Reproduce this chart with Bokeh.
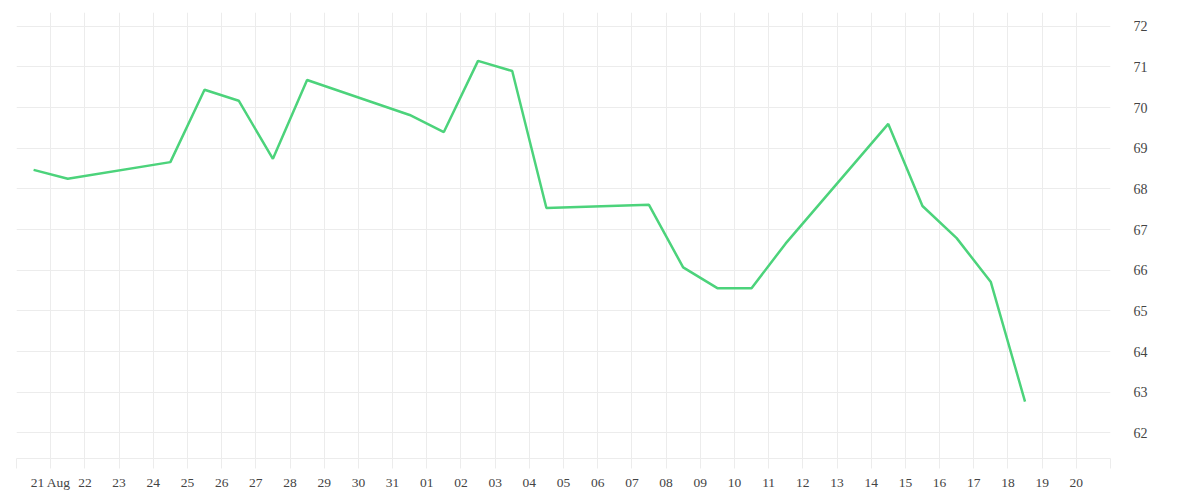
import pandas as pd
from bokeh.plotting import figure
from bokeh.models import Range1d, FixedTicker, ColumnDataSource
from bokeh.embed import file_html
from bokeh.resources import INLINE

# ---- data ----
dates = [
    "2020-08-20 12:00", "2020-08-21 12:00", "2020-08-24 12:00", "2020-08-25 12:00",
    "2020-08-26 12:00", "2020-08-27 12:00", "2020-08-28 12:00", "2020-08-31 12:00",
    "2020-09-01 12:00", "2020-09-02 12:00", "2020-09-03 12:00", "2020-09-04 12:00",
    "2020-09-07 12:00", "2020-09-08 12:00", "2020-09-09 12:00", "2020-09-10 12:00",
    "2020-09-11 12:00", "2020-09-14 12:00", "2020-09-15 12:00", "2020-09-16 12:00",
    "2020-09-17 12:00", "2020-09-18 12:00",
]
values = [
    68.47, 68.25, 68.66, 70.44, 70.17, 68.74, 70.68, 69.82,
    69.40, 71.15, 70.90, 67.53, 67.61, 66.07, 65.56, 65.56,
    66.66, 69.60, 67.58, 66.79, 65.71, 62.77,
]
tick_days = pd.date_range("2020-08-20", "2020-09-21", freq="D")
tick_labels = [""] + ["21 Aug"] + [d.strftime("%d") for d in tick_days[2:-1]] + [""]
y_ticks = [62, 63, 64, 65, 66, 67, 68, 69, 70, 71, 72]
x_start, x_end = "2020-08-20", "2020-09-21"
y_start, y_end = 61.37, 72.34

def ms(s):
    return pd.Timestamp(s).value // 10**6

GRID = "#ececec"
TEXT = "#444444"
FONT = "Liberation Serif"

source = ColumnDataSource(data=dict(x=[ms(d) for d in dates], y=values))

p = figure(
    x_axis_type="datetime", y_axis_location="right",
    frame_width=1094, frame_height=446,
    min_border_left=16, min_border_top=12, min_border_right=10, min_border_bottom=4,
    output_backend="svg", toolbar_location=None,
    x_range=Range1d(ms(x_start), ms(x_end)), y_range=Range1d(y_start, y_end),
)
p.outline_line_color = None
p.background_fill_color = "white"
p.border_fill_color = "white"

p.line("x", "y", source=source, line_color="#4cd37b", line_width=2.5)

tick_ms = [ms(d) for d in tick_days]
p.xaxis.ticker = FixedTicker(ticks=tick_ms)
p.xaxis.major_label_overrides = {t: lab for t, lab in zip(tick_ms, tick_labels)}
p.xaxis.axis_line_color = GRID
p.xaxis.major_tick_line_color = GRID
p.xaxis.major_tick_out = 10
p.xaxis.major_tick_in = 0
p.xaxis.minor_tick_line_color = None
p.xaxis.major_label_standoff = 6
p.xaxis.major_label_text_font = FONT
p.xaxis.major_label_text_font_size = "13.5px"
p.xaxis.major_label_text_color = TEXT

p.yaxis.ticker = FixedTicker(ticks=y_ticks)
p.yaxis.axis_line_color = None
p.yaxis.major_tick_line_color = None
p.yaxis.minor_tick_line_color = None
p.yaxis.major_label_standoff = 17
p.yaxis.major_label_text_font = FONT
p.yaxis.major_label_text_font_size = "14px"
p.yaxis.major_label_text_color = TEXT

p.xgrid.grid_line_color = GRID
p.ygrid.grid_line_color = GRID
p.xgrid.ticker = p.xaxis.ticker
p.ygrid.ticker = p.yaxis.ticker

open("out.html", "w").write(file_html(p, INLINE))
